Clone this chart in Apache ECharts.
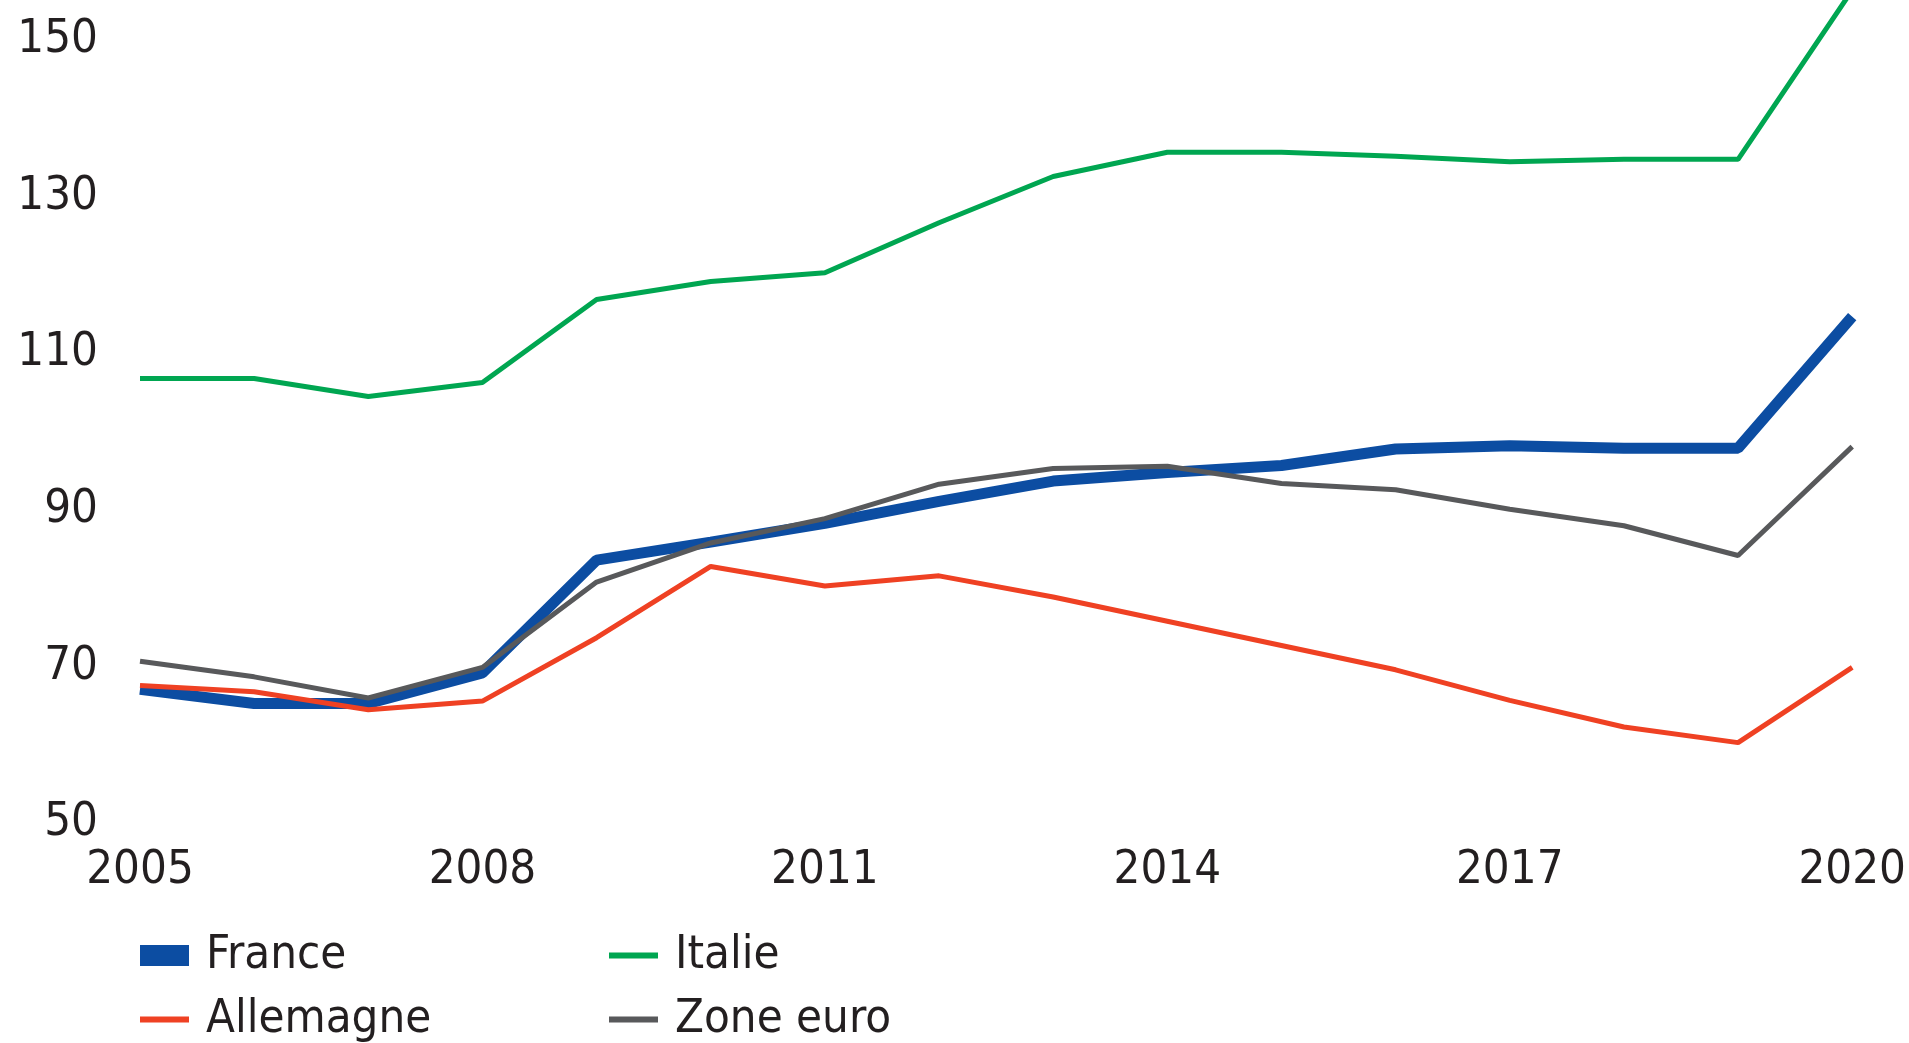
<!DOCTYPE html>
<html>
<head>
<meta charset="utf-8">
<script src="https://cdn.jsdelivr.net/npm/echarts@6/dist/echarts.min.js"></script>
<style>
  html, body { margin: 0; padding: 0; background: #fff; }
  #chart { width: 1909px; height: 1043px; }
</style>
</head>
<body>
<div id="chart"></div>
<script>
  // années
  const years = ['2005', '2006', '2007', '2008', '2009', '2010', '2011', '2012',
    '2013', '2014', '2015', '2016', '2017', '2018', '2019', '2020'];

  // dette publique, % du PIB
  const france = [66.3, 64.5, 64.5, 68.4, 82.8, 85.1, 87.5, 90.3, 92.9, 94.0, 94.9, 97.0, 97.4, 97.1, 97.1, 113.9];
  const italie = [106.0, 106.0, 103.7, 105.5, 116.1, 118.4, 119.5, 125.9, 131.8, 134.9, 134.9, 134.4, 133.7, 134.0, 134.0, 155.6];
  const allemagne = [66.8, 66.0, 63.7, 64.8, 72.9, 82.0, 79.5, 80.8, 78.1, 75.0, 71.9, 68.8, 64.9, 61.5, 59.5, 69.1];
  const zoneEuro = [69.9, 67.9, 65.2, 69.1, 80.0, 85.0, 88.1, 92.5, 94.5, 94.8, 92.6, 91.8, 89.3, 87.2, 83.4, 97.3];

  const yTicks = [50, 70, 90, 110, 130, 150];

  const font = "'Liberation Sans Narrow', 'DejaVu Sans Condensed', sans-serif";
  const txt = '#231f20';

  let dom = document.getElementById('chart');
  let myChart = echarts.init(dom);

  function legendItem(name, icon, h, left, top) {
    return {
      show: true,
      left: left,
      top: top,
      padding: 0,
      icon: icon,
      itemWidth: 49,
      itemHeight: h,
      selectedMode: false,
      data: [name],
      textStyle: { fontFamily: font, fontSize: 47, color: txt, padding: [0, 0, 0, 12] }
    };
  }

  let option = {
    animation: false,
    backgroundColor: '#fff',
    grid: { left: 140, right: 56, top: 34, bottom: 226, containLabel: false },
    legend: [
      legendItem('France', 'rect', 21, 140, 932),
      legendItem('Italie', 'rect', 6, 609, 932),
      legendItem('Allemagne', 'rect', 6, 140, 996),
      legendItem('Zone euro', 'rect', 6, 609, 996)
    ],
    xAxis: {
      type: 'category',
      data: years,
      boundaryGap: false,
      axisLine: { show: false },
      axisTick: { show: false },
      splitLine: { show: false },
      axisLabel: {
        interval: 2,
        margin: 30,
        fontFamily: font,
        fontSize: 47,
        color: txt
      }
    },
    yAxis: {
      type: 'value',
      min: yTicks[0],
      max: yTicks[yTicks.length - 1],
      interval: 20,
      axisLine: { show: false },
      axisTick: { show: false },
      splitLine: { show: false },
      axisLabel: {
        margin: 42,
        formatter: '{v|{value}}',
        rich: {
          v: { fontFamily: font, fontSize: 47, color: txt, padding: [12, 0, 0, 0] }
        }
      }
    },
    series: [
      {
        name: 'France', type: 'line', data: france, symbol: 'none', clip: false,
        itemStyle: { color: '#0c4da2' },
        lineStyle: { color: '#0c4da2', width: 11 }
      },
      {
        name: 'Italie', type: 'line', data: italie, symbol: 'none', clip: false,
        itemStyle: { color: '#00a651' },
        lineStyle: { color: '#00a651', width: 5 }
      },
      {
        name: 'Allemagne', type: 'line', data: allemagne, symbol: 'none', clip: false,
        itemStyle: { color: '#ef4123' },
        lineStyle: { color: '#ef4123', width: 5 }
      },
      {
        name: 'Zone euro', type: 'line', data: zoneEuro, symbol: 'none', clip: false,
        itemStyle: { color: '#58595b' },
        lineStyle: { color: '#58595b', width: 5 }
      }
    ]
  };
  myChart.setOption(option);
  window.addEventListener('resize', () => { myChart.resize() });
</script>
</body>
</html>
